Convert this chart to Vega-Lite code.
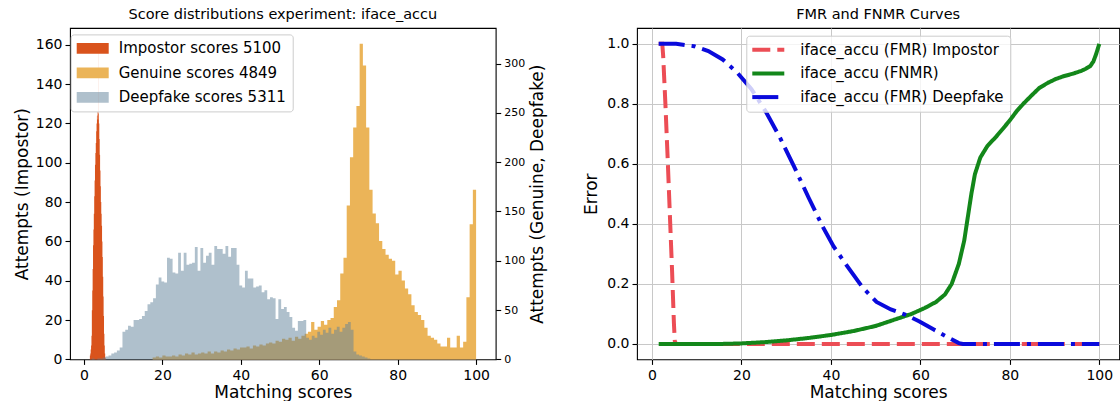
{
  "$schema": "https://vega.github.io/schema/vega-lite/v6.json",
  "autosize": {"type": "pad"},
  "padding": {"left": 12, "top": 6, "right": 0, "bottom": 0},
  "spacing": 35,
  "resolve": {"scale": {"color": "independent", "strokeDash": "independent"}, "legend": {"color": "independent"}},
  "config": {
    "font": "DejaVu Sans",
    "view": {"stroke": "#000", "strokeWidth": 1.1},
    "axis": {"domain": false, "tickColor": "#000", "tickSize": 5, "tickWidth": 1.1, "labelColor": "#000", "labelFontSize": 14, "labelPadding": 3, "titleColor": "#000", "titleFontSize": 17, "titleFontWeight": "normal", "grid": false, "labelFlush": false, "labelOverlap": false, "labelFont": "DejaVu Sans", "titleFont": "DejaVu Sans"},
    "axisX": {"labelPadding": 4, "titlePadding": 2},
    "title": {"fontSize": 14.5, "fontWeight": "normal", "color": "#000", "font": "DejaVu Sans", "offset": 5.5},
    "legend": {"labelFont": "DejaVu Sans", "labelColor": "#000", "labelFontSize": 15, "labelLimit": 400}
  },
  "datasets": {
    "imp": [
      {"series": "Impostor scores 5100", "edge": 1.5, "count": 2},
      {"series": "Impostor scores 5100", "edge": 1.6, "count": 3},
      {"series": "Impostor scores 5100", "edge": 1.7, "count": 5},
      {"series": "Impostor scores 5100", "edge": 1.8, "count": 7},
      {"series": "Impostor scores 5100", "edge": 1.9, "count": 12},
      {"series": "Impostor scores 5100", "edge": 2.0, "count": 25},
      {"series": "Impostor scores 5100", "edge": 2.1, "count": 35},
      {"series": "Impostor scores 5100", "edge": 2.2, "count": 46},
      {"series": "Impostor scores 5100", "edge": 2.3, "count": 58},
      {"series": "Impostor scores 5100", "edge": 2.4, "count": 66},
      {"series": "Impostor scores 5100", "edge": 2.5, "count": 74},
      {"series": "Impostor scores 5100", "edge": 2.6, "count": 83},
      {"series": "Impostor scores 5100", "edge": 2.7, "count": 91},
      {"series": "Impostor scores 5100", "edge": 2.8, "count": 99},
      {"series": "Impostor scores 5100", "edge": 2.9, "count": 105},
      {"series": "Impostor scores 5100", "edge": 3.0, "count": 110},
      {"series": "Impostor scores 5100", "edge": 3.1, "count": 116},
      {"series": "Impostor scores 5100", "edge": 3.2, "count": 120},
      {"series": "Impostor scores 5100", "edge": 3.3, "count": 124},
      {"series": "Impostor scores 5100", "edge": 3.4, "count": 126},
      {"series": "Impostor scores 5100", "edge": 3.5, "count": 122},
      {"series": "Impostor scores 5100", "edge": 3.6, "count": 160},
      {"series": "Impostor scores 5100", "edge": 3.7, "count": 125},
      {"series": "Impostor scores 5100", "edge": 3.8, "count": 120},
      {"series": "Impostor scores 5100", "edge": 3.9, "count": 112},
      {"series": "Impostor scores 5100", "edge": 4.0, "count": 104},
      {"series": "Impostor scores 5100", "edge": 4.1, "count": 96},
      {"series": "Impostor scores 5100", "edge": 4.2, "count": 88},
      {"series": "Impostor scores 5100", "edge": 4.3, "count": 80},
      {"series": "Impostor scores 5100", "edge": 4.4, "count": 74},
      {"series": "Impostor scores 5100", "edge": 4.5, "count": 68},
      {"series": "Impostor scores 5100", "edge": 4.6, "count": 60},
      {"series": "Impostor scores 5100", "edge": 4.7, "count": 52},
      {"series": "Impostor scores 5100", "edge": 4.8, "count": 42},
      {"series": "Impostor scores 5100", "edge": 4.9, "count": 32},
      {"series": "Impostor scores 5100", "edge": 5.0, "count": 22},
      {"series": "Impostor scores 5100", "edge": 5.1, "count": 13},
      {"series": "Impostor scores 5100", "edge": 5.2, "count": 7},
      {"series": "Impostor scores 5100", "edge": 5.3, "count": 3},
      {"series": "Impostor scores 5100", "edge": 5.4, "count": 1},
      {"series": "Impostor scores 5100", "edge": 5.5, "count": 1}
    ],
    "gen": [
      {"series": "Genuine scores 4849", "edge": 17.5, "count": 2},
      {"series": "Genuine scores 4849", "edge": 18.325, "count": 3},
      {"series": "Genuine scores 4849", "edge": 19.15, "count": 2},
      {"series": "Genuine scores 4849", "edge": 19.975, "count": 4},
      {"series": "Genuine scores 4849", "edge": 20.8, "count": 3},
      {"series": "Genuine scores 4849", "edge": 21.625, "count": 3},
      {"series": "Genuine scores 4849", "edge": 22.45, "count": 4},
      {"series": "Genuine scores 4849", "edge": 23.275, "count": 3},
      {"series": "Genuine scores 4849", "edge": 24.1, "count": 5},
      {"series": "Genuine scores 4849", "edge": 24.925, "count": 4},
      {"series": "Genuine scores 4849", "edge": 25.75, "count": 6},
      {"series": "Genuine scores 4849", "edge": 26.575, "count": 5},
      {"series": "Genuine scores 4849", "edge": 27.4, "count": 7},
      {"series": "Genuine scores 4849", "edge": 28.225, "count": 5},
      {"series": "Genuine scores 4849", "edge": 29.05, "count": 6},
      {"series": "Genuine scores 4849", "edge": 29.875, "count": 7},
      {"series": "Genuine scores 4849", "edge": 30.7, "count": 6},
      {"series": "Genuine scores 4849", "edge": 31.525, "count": 8},
      {"series": "Genuine scores 4849", "edge": 32.35, "count": 6},
      {"series": "Genuine scores 4849", "edge": 33.175, "count": 8},
      {"series": "Genuine scores 4849", "edge": 34.0, "count": 7},
      {"series": "Genuine scores 4849", "edge": 34.825, "count": 9},
      {"series": "Genuine scores 4849", "edge": 35.65, "count": 8},
      {"series": "Genuine scores 4849", "edge": 36.475, "count": 10},
      {"series": "Genuine scores 4849", "edge": 37.3, "count": 9},
      {"series": "Genuine scores 4849", "edge": 38.125, "count": 11},
      {"series": "Genuine scores 4849", "edge": 38.95, "count": 10},
      {"series": "Genuine scores 4849", "edge": 39.775, "count": 12},
      {"series": "Genuine scores 4849", "edge": 40.6, "count": 12},
      {"series": "Genuine scores 4849", "edge": 41.425, "count": 13},
      {"series": "Genuine scores 4849", "edge": 42.25, "count": 11},
      {"series": "Genuine scores 4849", "edge": 43.075, "count": 14},
      {"series": "Genuine scores 4849", "edge": 43.9, "count": 13},
      {"series": "Genuine scores 4849", "edge": 44.725, "count": 15},
      {"series": "Genuine scores 4849", "edge": 45.55, "count": 14},
      {"series": "Genuine scores 4849", "edge": 46.375, "count": 16},
      {"series": "Genuine scores 4849", "edge": 47.2, "count": 17},
      {"series": "Genuine scores 4849", "edge": 48.025, "count": 16},
      {"series": "Genuine scores 4849", "edge": 48.85, "count": 19},
      {"series": "Genuine scores 4849", "edge": 49.675, "count": 18},
      {"series": "Genuine scores 4849", "edge": 50.5, "count": 21},
      {"series": "Genuine scores 4849", "edge": 51.325, "count": 20},
      {"series": "Genuine scores 4849", "edge": 52.15, "count": 22},
      {"series": "Genuine scores 4849", "edge": 52.975, "count": 19},
      {"series": "Genuine scores 4849", "edge": 53.8, "count": 23},
      {"series": "Genuine scores 4849", "edge": 54.625, "count": 21},
      {"series": "Genuine scores 4849", "edge": 55.45, "count": 24},
      {"series": "Genuine scores 4849", "edge": 56.275, "count": 26},
      {"series": "Genuine scores 4849", "edge": 57.1, "count": 28},
      {"series": "Genuine scores 4849", "edge": 57.925, "count": 38},
      {"series": "Genuine scores 4849", "edge": 58.75, "count": 30},
      {"series": "Genuine scores 4849", "edge": 59.575, "count": 33},
      {"series": "Genuine scores 4849", "edge": 60.4, "count": 39},
      {"series": "Genuine scores 4849", "edge": 61.225, "count": 35},
      {"series": "Genuine scores 4849", "edge": 62.05, "count": 40},
      {"series": "Genuine scores 4849", "edge": 62.875, "count": 42},
      {"series": "Genuine scores 4849", "edge": 63.7, "count": 53},
      {"series": "Genuine scores 4849", "edge": 64.525, "count": 60},
      {"series": "Genuine scores 4849", "edge": 65.35, "count": 87},
      {"series": "Genuine scores 4849", "edge": 66.175, "count": 103},
      {"series": "Genuine scores 4849", "edge": 67.0, "count": 156},
      {"series": "Genuine scores 4849", "edge": 67.825, "count": 205},
      {"series": "Genuine scores 4849", "edge": 68.65, "count": 235},
      {"series": "Genuine scores 4849", "edge": 69.475, "count": 257},
      {"series": "Genuine scores 4849", "edge": 70.3, "count": 320},
      {"series": "Genuine scores 4849", "edge": 71.125, "count": 298},
      {"series": "Genuine scores 4849", "edge": 71.95, "count": 235},
      {"series": "Genuine scores 4849", "edge": 72.775, "count": 172},
      {"series": "Genuine scores 4849", "edge": 73.6, "count": 148},
      {"series": "Genuine scores 4849", "edge": 74.425, "count": 138},
      {"series": "Genuine scores 4849", "edge": 75.25, "count": 120},
      {"series": "Genuine scores 4849", "edge": 76.075, "count": 112},
      {"series": "Genuine scores 4849", "edge": 76.9, "count": 106},
      {"series": "Genuine scores 4849", "edge": 77.725, "count": 102},
      {"series": "Genuine scores 4849", "edge": 78.55, "count": 100},
      {"series": "Genuine scores 4849", "edge": 79.375, "count": 86},
      {"series": "Genuine scores 4849", "edge": 80.2, "count": 90},
      {"series": "Genuine scores 4849", "edge": 81.025, "count": 80},
      {"series": "Genuine scores 4849", "edge": 81.85, "count": 72},
      {"series": "Genuine scores 4849", "edge": 82.675, "count": 66},
      {"series": "Genuine scores 4849", "edge": 83.5, "count": 55},
      {"series": "Genuine scores 4849", "edge": 84.325, "count": 48},
      {"series": "Genuine scores 4849", "edge": 85.15, "count": 45},
      {"series": "Genuine scores 4849", "edge": 85.975, "count": 40},
      {"series": "Genuine scores 4849", "edge": 86.8, "count": 32},
      {"series": "Genuine scores 4849", "edge": 87.625, "count": 24},
      {"series": "Genuine scores 4849", "edge": 88.45, "count": 22},
      {"series": "Genuine scores 4849", "edge": 89.275, "count": 20},
      {"series": "Genuine scores 4849", "edge": 90.1, "count": 16},
      {"series": "Genuine scores 4849", "edge": 90.925, "count": 13},
      {"series": "Genuine scores 4849", "edge": 91.75, "count": 13},
      {"series": "Genuine scores 4849", "edge": 92.575, "count": 22},
      {"series": "Genuine scores 4849", "edge": 93.4, "count": 12},
      {"series": "Genuine scores 4849", "edge": 94.225, "count": 12},
      {"series": "Genuine scores 4849", "edge": 95.05, "count": 24},
      {"series": "Genuine scores 4849", "edge": 95.875, "count": 12},
      {"series": "Genuine scores 4849", "edge": 96.7, "count": 18},
      {"series": "Genuine scores 4849", "edge": 97.525, "count": 63},
      {"series": "Genuine scores 4849", "edge": 98.35, "count": 137},
      {"series": "Genuine scores 4849", "edge": 99.175, "count": 172},
      {"series": "Genuine scores 4849", "edge": 100.0, "count": 172}
    ],
    "deep": [
      {"series": "Deepfake scores 5311", "edge": 2.0, "count": 1},
      {"series": "Deepfake scores 5311", "edge": 2.71, "count": 0},
      {"series": "Deepfake scores 5311", "edge": 3.42, "count": 1},
      {"series": "Deepfake scores 5311", "edge": 4.13, "count": 1},
      {"series": "Deepfake scores 5311", "edge": 4.84, "count": 2},
      {"series": "Deepfake scores 5311", "edge": 5.55, "count": 3},
      {"series": "Deepfake scores 5311", "edge": 6.26, "count": 4},
      {"series": "Deepfake scores 5311", "edge": 6.97, "count": 6},
      {"series": "Deepfake scores 5311", "edge": 7.68, "count": 7},
      {"series": "Deepfake scores 5311", "edge": 8.39, "count": 9},
      {"series": "Deepfake scores 5311", "edge": 9.1, "count": 12},
      {"series": "Deepfake scores 5311", "edge": 9.81, "count": 28},
      {"series": "Deepfake scores 5311", "edge": 10.52, "count": 30},
      {"series": "Deepfake scores 5311", "edge": 11.23, "count": 34},
      {"series": "Deepfake scores 5311", "edge": 11.94, "count": 33},
      {"series": "Deepfake scores 5311", "edge": 12.65, "count": 40},
      {"series": "Deepfake scores 5311", "edge": 13.36, "count": 40},
      {"series": "Deepfake scores 5311", "edge": 14.07, "count": 41},
      {"series": "Deepfake scores 5311", "edge": 14.78, "count": 44},
      {"series": "Deepfake scores 5311", "edge": 15.49, "count": 49},
      {"series": "Deepfake scores 5311", "edge": 16.2, "count": 56},
      {"series": "Deepfake scores 5311", "edge": 16.91, "count": 58},
      {"series": "Deepfake scores 5311", "edge": 17.62, "count": 62},
      {"series": "Deepfake scores 5311", "edge": 18.33, "count": 76},
      {"series": "Deepfake scores 5311", "edge": 19.04, "count": 83},
      {"series": "Deepfake scores 5311", "edge": 19.75, "count": 79},
      {"series": "Deepfake scores 5311", "edge": 20.46, "count": 78},
      {"series": "Deepfake scores 5311", "edge": 21.17, "count": 103},
      {"series": "Deepfake scores 5311", "edge": 21.88, "count": 102},
      {"series": "Deepfake scores 5311", "edge": 22.59, "count": 88},
      {"series": "Deepfake scores 5311", "edge": 23.3, "count": 87},
      {"series": "Deepfake scores 5311", "edge": 24.01, "count": 108},
      {"series": "Deepfake scores 5311", "edge": 24.72, "count": 90},
      {"series": "Deepfake scores 5311", "edge": 25.43, "count": 108},
      {"series": "Deepfake scores 5311", "edge": 26.14, "count": 96},
      {"series": "Deepfake scores 5311", "edge": 26.85, "count": 97},
      {"series": "Deepfake scores 5311", "edge": 27.56, "count": 98},
      {"series": "Deepfake scores 5311", "edge": 28.27, "count": 114},
      {"series": "Deepfake scores 5311", "edge": 28.98, "count": 90},
      {"series": "Deepfake scores 5311", "edge": 29.69, "count": 113},
      {"series": "Deepfake scores 5311", "edge": 30.4, "count": 98},
      {"series": "Deepfake scores 5311", "edge": 31.11, "count": 105},
      {"series": "Deepfake scores 5311", "edge": 31.82, "count": 108},
      {"series": "Deepfake scores 5311", "edge": 32.53, "count": 96},
      {"series": "Deepfake scores 5311", "edge": 33.24, "count": 115},
      {"series": "Deepfake scores 5311", "edge": 33.95, "count": 112},
      {"series": "Deepfake scores 5311", "edge": 34.66, "count": 112},
      {"series": "Deepfake scores 5311", "edge": 35.37, "count": 107},
      {"series": "Deepfake scores 5311", "edge": 36.08, "count": 115},
      {"series": "Deepfake scores 5311", "edge": 36.79, "count": 104},
      {"series": "Deepfake scores 5311", "edge": 37.5, "count": 113},
      {"series": "Deepfake scores 5311", "edge": 38.21, "count": 113},
      {"series": "Deepfake scores 5311", "edge": 38.92, "count": 96},
      {"series": "Deepfake scores 5311", "edge": 39.63, "count": 75},
      {"series": "Deepfake scores 5311", "edge": 40.34, "count": 73},
      {"series": "Deepfake scores 5311", "edge": 41.05, "count": 90},
      {"series": "Deepfake scores 5311", "edge": 41.76, "count": 82},
      {"series": "Deepfake scores 5311", "edge": 42.47, "count": 82},
      {"series": "Deepfake scores 5311", "edge": 43.18, "count": 73},
      {"series": "Deepfake scores 5311", "edge": 43.89, "count": 74},
      {"series": "Deepfake scores 5311", "edge": 44.6, "count": 75},
      {"series": "Deepfake scores 5311", "edge": 45.31, "count": 68},
      {"series": "Deepfake scores 5311", "edge": 46.02, "count": 70},
      {"series": "Deepfake scores 5311", "edge": 46.73, "count": 61},
      {"series": "Deepfake scores 5311", "edge": 47.44, "count": 63},
      {"series": "Deepfake scores 5311", "edge": 48.15, "count": 62},
      {"series": "Deepfake scores 5311", "edge": 48.86, "count": 41},
      {"series": "Deepfake scores 5311", "edge": 49.57, "count": 61},
      {"series": "Deepfake scores 5311", "edge": 50.28, "count": 51},
      {"series": "Deepfake scores 5311", "edge": 50.99, "count": 53},
      {"series": "Deepfake scores 5311", "edge": 51.7, "count": 48},
      {"series": "Deepfake scores 5311", "edge": 52.41, "count": 43},
      {"series": "Deepfake scores 5311", "edge": 53.12, "count": 32},
      {"series": "Deepfake scores 5311", "edge": 53.83, "count": 29},
      {"series": "Deepfake scores 5311", "edge": 54.54, "count": 39},
      {"series": "Deepfake scores 5311", "edge": 55.25, "count": 39},
      {"series": "Deepfake scores 5311", "edge": 55.96, "count": 40},
      {"series": "Deepfake scores 5311", "edge": 56.67, "count": 22},
      {"series": "Deepfake scores 5311", "edge": 57.38, "count": 20},
      {"series": "Deepfake scores 5311", "edge": 58.09, "count": 24},
      {"series": "Deepfake scores 5311", "edge": 58.8, "count": 22},
      {"series": "Deepfake scores 5311", "edge": 59.51, "count": 28},
      {"series": "Deepfake scores 5311", "edge": 60.22, "count": 25},
      {"series": "Deepfake scores 5311", "edge": 60.93, "count": 30},
      {"series": "Deepfake scores 5311", "edge": 61.64, "count": 27},
      {"series": "Deepfake scores 5311", "edge": 62.35, "count": 32},
      {"series": "Deepfake scores 5311", "edge": 63.06, "count": 26},
      {"series": "Deepfake scores 5311", "edge": 63.77, "count": 30},
      {"series": "Deepfake scores 5311", "edge": 64.48, "count": 33},
      {"series": "Deepfake scores 5311", "edge": 65.19, "count": 28},
      {"series": "Deepfake scores 5311", "edge": 65.9, "count": 32},
      {"series": "Deepfake scores 5311", "edge": 66.61, "count": 36},
      {"series": "Deepfake scores 5311", "edge": 67.32, "count": 38},
      {"series": "Deepfake scores 5311", "edge": 68.03, "count": 30},
      {"series": "Deepfake scores 5311", "edge": 68.74, "count": 8},
      {"series": "Deepfake scores 5311", "edge": 69.45, "count": 5},
      {"series": "Deepfake scores 5311", "edge": 70.16, "count": 4},
      {"series": "Deepfake scores 5311", "edge": 70.87, "count": 3},
      {"series": "Deepfake scores 5311", "edge": 71.58, "count": 2},
      {"series": "Deepfake scores 5311", "edge": 72.29, "count": 1},
      {"series": "Deepfake scores 5311", "edge": 73.0, "count": 1}
    ],
    "curves": [
      {"series": "iface_accu (FMR) Impostor", "x": 1.5, "y": 1.0},
      {"series": "iface_accu (FMR) Impostor", "x": 2.3, "y": 1.0},
      {"series": "iface_accu (FMR) Impostor", "x": 2.5, "y": 0.96},
      {"series": "iface_accu (FMR) Impostor", "x": 3.0, "y": 0.8},
      {"series": "iface_accu (FMR) Impostor", "x": 3.5, "y": 0.62},
      {"series": "iface_accu (FMR) Impostor", "x": 4.0, "y": 0.43},
      {"series": "iface_accu (FMR) Impostor", "x": 4.5, "y": 0.24},
      {"series": "iface_accu (FMR) Impostor", "x": 4.9, "y": 0.07},
      {"series": "iface_accu (FMR) Impostor", "x": 5.1, "y": 0.01},
      {"series": "iface_accu (FMR) Impostor", "x": 5.4, "y": 0.0},
      {"series": "iface_accu (FMR) Impostor", "x": 100, "y": 0.0},
      {"series": "iface_accu (FNMR)", "x": 1.5, "y": 0.0},
      {"series": "iface_accu (FNMR)", "x": 15, "y": 0.0},
      {"series": "iface_accu (FNMR)", "x": 20, "y": 0.002},
      {"series": "iface_accu (FNMR)", "x": 25, "y": 0.006},
      {"series": "iface_accu (FNMR)", "x": 30, "y": 0.012},
      {"series": "iface_accu (FNMR)", "x": 35, "y": 0.02},
      {"series": "iface_accu (FNMR)", "x": 40, "y": 0.03},
      {"series": "iface_accu (FNMR)", "x": 45, "y": 0.043},
      {"series": "iface_accu (FNMR)", "x": 50, "y": 0.06},
      {"series": "iface_accu (FNMR)", "x": 54, "y": 0.08},
      {"series": "iface_accu (FNMR)", "x": 58, "y": 0.1},
      {"series": "iface_accu (FNMR)", "x": 61, "y": 0.12},
      {"series": "iface_accu (FNMR)", "x": 63.5, "y": 0.14},
      {"series": "iface_accu (FNMR)", "x": 65.5, "y": 0.165},
      {"series": "iface_accu (FNMR)", "x": 67, "y": 0.2},
      {"series": "iface_accu (FNMR)", "x": 68.6, "y": 0.267},
      {"series": "iface_accu (FNMR)", "x": 69.8, "y": 0.344},
      {"series": "iface_accu (FNMR)", "x": 70.6, "y": 0.422},
      {"series": "iface_accu (FNMR)", "x": 71.4, "y": 0.5},
      {"series": "iface_accu (FNMR)", "x": 72.2, "y": 0.566},
      {"series": "iface_accu (FNMR)", "x": 73.4, "y": 0.621},
      {"series": "iface_accu (FNMR)", "x": 75, "y": 0.66},
      {"series": "iface_accu (FNMR)", "x": 76.9, "y": 0.69},
      {"series": "iface_accu (FNMR)", "x": 78.5, "y": 0.718},
      {"series": "iface_accu (FNMR)", "x": 80, "y": 0.745},
      {"series": "iface_accu (FNMR)", "x": 81.5, "y": 0.775},
      {"series": "iface_accu (FNMR)", "x": 83, "y": 0.8},
      {"series": "iface_accu (FNMR)", "x": 85, "y": 0.83},
      {"series": "iface_accu (FNMR)", "x": 86.6, "y": 0.853},
      {"series": "iface_accu (FNMR)", "x": 88.5, "y": 0.87},
      {"series": "iface_accu (FNMR)", "x": 90.3, "y": 0.883},
      {"series": "iface_accu (FNMR)", "x": 92, "y": 0.892},
      {"series": "iface_accu (FNMR)", "x": 94, "y": 0.9},
      {"series": "iface_accu (FNMR)", "x": 96, "y": 0.91},
      {"series": "iface_accu (FNMR)", "x": 97, "y": 0.917},
      {"series": "iface_accu (FNMR)", "x": 98, "y": 0.926},
      {"series": "iface_accu (FNMR)", "x": 98.7, "y": 0.942},
      {"series": "iface_accu (FNMR)", "x": 99.3, "y": 0.966},
      {"series": "iface_accu (FNMR)", "x": 100, "y": 1.0},
      {"series": "iface_accu (FMR) Deepfake", "x": 1.5, "y": 1.0},
      {"series": "iface_accu (FMR) Deepfake", "x": 5.4, "y": 1.0},
      {"series": "iface_accu (FMR) Deepfake", "x": 9.4, "y": 0.992},
      {"series": "iface_accu (FMR) Deepfake", "x": 12.6, "y": 0.976},
      {"series": "iface_accu (FMR) Deepfake", "x": 15.8, "y": 0.948},
      {"series": "iface_accu (FMR) Deepfake", "x": 19, "y": 0.905},
      {"series": "iface_accu (FMR) Deepfake", "x": 22.2, "y": 0.85},
      {"series": "iface_accu (FMR) Deepfake", "x": 25.4, "y": 0.775},
      {"series": "iface_accu (FMR) Deepfake", "x": 28.6, "y": 0.688},
      {"series": "iface_accu (FMR) Deepfake", "x": 31.8, "y": 0.59},
      {"series": "iface_accu (FMR) Deepfake", "x": 35, "y": 0.488},
      {"series": "iface_accu (FMR) Deepfake", "x": 38.2, "y": 0.39},
      {"series": "iface_accu (FMR) Deepfake", "x": 40.6, "y": 0.325},
      {"series": "iface_accu (FMR) Deepfake", "x": 43.8, "y": 0.256},
      {"series": "iface_accu (FMR) Deepfake", "x": 47, "y": 0.19},
      {"series": "iface_accu (FMR) Deepfake", "x": 50.2, "y": 0.14},
      {"series": "iface_accu (FMR) Deepfake", "x": 53.4, "y": 0.115},
      {"series": "iface_accu (FMR) Deepfake", "x": 56.6, "y": 0.098},
      {"series": "iface_accu (FMR) Deepfake", "x": 59.8, "y": 0.075},
      {"series": "iface_accu (FMR) Deepfake", "x": 63, "y": 0.048},
      {"series": "iface_accu (FMR) Deepfake", "x": 66.2, "y": 0.022},
      {"series": "iface_accu (FMR) Deepfake", "x": 68.6, "y": 0.003},
      {"series": "iface_accu (FMR) Deepfake", "x": 69.5, "y": 0.0},
      {"series": "iface_accu (FMR) Deepfake", "x": 100, "y": 0.0}
    ]
  },
  "hconcat": [
    {
      "width": 425.7,
      "height": 331.4,
      "title": {"text": "Score distributions experiment: iface_accu"},
      "layer": [
        {
          "data": {"name": "imp"},
          "mark": {"type": "area", "interpolate": "step-after"},
          "encoding": {
            "x": {"field": "edge", "type": "quantitative", "scale": {"domain": [-3.57, 105.0], "nice": false, "zero": false}, "axis": {"values": [0, 20, 40, 60, 80, 100], "title": "Matching scores"}},
            "y": {"field": "count", "type": "quantitative", "stack": null, "scale": {"domain": [0, 168.5], "nice": false}, "axis": {"orient": "left", "values": [0, 20, 40, 60, 80, 100, 120, 140, 160], "title": "Attempts (Impostor)", "titlePadding": 4}},
            "color": {
              "field": "series", "type": "nominal",
              "scale": {"domain": ["Impostor scores 5100", "Genuine scores 4849", "Deepfake scores 5311"], "range": ["#D9531C", "#EBB458", "#5F8199"]},
              "legend": {
                "title": null, "orient": "none", "legendX": 0.7, "legendY": 6.4,
                "symbolType": "M-2,-0.66H2V0.66H-2Z", "symbolSize": 256, "symbolStrokeWidth": 0, "symbolOffset": 8, "labelOffset": 18,
                "rowPadding": 8.5, "padding": 6, "fillColor": "rgba(255,255,255,0.8)", "strokeColor": "#cccccc", "cornerRadius": 3,
                "encode": {"symbols": {"update": {"opacity": {"signal": "datum.value === 'Deepfake scores 5311' ? 0.5 : 1"}}}}
              }
            }
          }
        },
        {
          "layer": [
            {
              "data": {"name": "gen"},
              "mark": {"type": "area", "interpolate": "step-after"},
              "encoding": {
                "x": {"field": "edge", "type": "quantitative"},
                "y": {"field": "count", "type": "quantitative", "stack": null, "scale": {"domain": [0, 336], "nice": false}, "axis": {"orient": "right", "values": [0, 50, 100, 150, 200, 250, 300], "labelFontSize": 11, "title": "Attempts (Genuine, Deepfake)", "titleAngle": 270, "titleBaseline": "top", "titlePadding": 5}},
                "color": {"field": "series", "type": "nominal"}
              }
            },
            {
              "data": {"name": "deep"},
              "mark": {"type": "area", "interpolate": "step-after", "opacity": 0.5},
              "encoding": {
                "x": {"field": "edge", "type": "quantitative"},
                "y": {"field": "count", "type": "quantitative", "stack": null, "scale": {"domain": [0, 336], "nice": false}, "axis": {"orient": "right", "values": [0, 50, 100, 150, 200, 250, 300], "labelFontSize": 11, "title": "Attempts (Genuine, Deepfake)", "titleAngle": 270, "titleBaseline": "top", "titlePadding": 5}},
                "color": {"field": "series", "type": "nominal"}
              }
            }
          ]
        }
      ],
      "resolve": {"scale": {"y": "independent"}}
    },
    {
      "width": 482.3,
      "height": 331.4,
      "title": {"text": "FMR and FNMR Curves"},
      "data": {"name": "curves"},
      "mark": {"type": "line", "strokeWidth": 4, "clip": true},
      "encoding": {
        "x": {"field": "x", "type": "quantitative", "scale": {"domain": [-3.35, 104.47], "nice": false, "zero": false}, "axis": {"values": [0, 20, 40, 60, 80, 100], "grid": true, "gridColor": "#c8c8c8", "gridWidth": 1, "title": "Matching scores"}},
        "y": {"field": "y", "type": "quantitative", "scale": {"domain": [-0.0513, 1.0527], "nice": false, "zero": false}, "axis": {"values": [0, 0.2, 0.4, 0.6, 0.8, 1.0], "format": ".1f", "grid": true, "gridColor": "#c8c8c8", "gridWidth": 1, "title": "Error", "titlePadding": 6}},
        "color": {
          "field": "series", "type": "nominal",
          "scale": {"domain": ["iface_accu (FMR) Impostor", "iface_accu (FNMR)", "iface_accu (FMR) Deepfake"], "range": ["#EC4D55", "#13871A", "#0A0ADC"]},
          "legend": {
            "title": null, "orient": "none", "legendX": 109.3, "legendY": 7.7,
            "symbolType": "M-2.667,0H2.667", "symbolSize": 144, "symbolStrokeWidth": 4, "symbolOffset": 8, "labelOffset": 24,
            "rowPadding": 7.7, "padding": 6, "fillColor": "rgba(255,255,255,0.8)", "strokeColor": "#cccccc", "cornerRadius": 3,
            "encode": {"symbols": {"update": {"strokeDash": {"signal": "datum.value === 'iface_accu (FMR) Impostor' ? [11, 5] : datum.value === 'iface_accu (FMR) Deepfake' ? [16, 5, 4, 5] : [1, 0]"}}}}
          }
        },
        "strokeDash": {
          "field": "series", "type": "nominal", "legend": null,
          "scale": {"domain": ["iface_accu (FMR) Impostor", "iface_accu (FNMR)", "iface_accu (FMR) Deepfake"], "range": [[18, 7], [1, 0], [26, 7, 4, 7]]}
        }
      }
    }
  ]
}
